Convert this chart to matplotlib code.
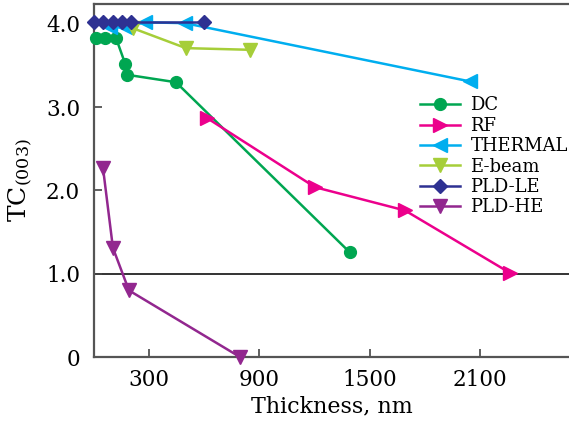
import matplotlib
matplotlib.use('Agg')
import matplotlib.pyplot as plt

plt.rcParams['font.family'] = ['DejaVu Serif']
plt.rcParams['mathtext.fontset'] = 'dejavuserif'

# 数据
dc_x = [10, 60, 120, 170, 180, 446, 1390]
dc_y = [3.83, 3.83, 3.83, 3.52, 3.39, 3.30, 1.26]

rf_x = [615, 1202, 1692, 2263]
rf_y = [2.87, 2.04, 1.76, 1.01]

th_x = [87, 170, 277, 495, 2045]
th_y = [3.96, 3.96, 4.02, 4.01, 3.31]

eb_x = [210, 500, 846]
eb_y = [3.95, 3.71, 3.69]

le_x = [0, 50, 105, 155, 200, 600]
le_y = [4.02, 4.02, 4.02, 4.02, 4.02, 4.02]

he_x = [49, 103, 190, 794]
he_y = [2.27, 1.31, 0.80, 0.0]

xticks = [300, 900, 1500, 2100]
yticks = [0, 1.0, 2.0, 3.0, 4.0]
ytick_labels = ['0', '1.0', '2.0', '3.0', '4.0']

fig = plt.figure(figsize=(5.69, 4.24), dpi=100)
ax = fig.add_axes([94 / 569, 67 / 424, 475 / 569, 353 / 424])

lw = 1.8
ax.axhline(1.0, color='#333333', lw=1.4, zorder=1)
ax.plot(dc_x, dc_y, '-o', color='#00a651', lw=lw, ms=8.5, label='DC', clip_on=False, zorder=3)
ax.plot(rf_x, rf_y, '->', color='#ec008c', lw=lw, ms=9.5, label='RF', clip_on=False, zorder=3)
ax.plot(th_x, th_y, '-<', color='#00aeef', lw=lw, ms=9.5, label='THERMAL', clip_on=False, zorder=3)
ax.plot(eb_x, eb_y, '-v', color='#a6ce39', lw=lw, ms=9.5, label='E-beam', clip_on=False, zorder=3)
ax.plot(le_x, le_y, '-D', color='#2e3192', lw=lw, ms=7.5, label='PLD-LE', clip_on=False, zorder=4)
ax.plot(he_x, he_y, '-v', color='#92278f', lw=lw, ms=9.5, label='PLD-HE', clip_on=False, zorder=3)

ax.set_xlim(0, 2584)
ax.set_ylim(0, 4.24)
ax.set_xticks(xticks)
ax.set_yticks(yticks)
ax.set_yticklabels(ytick_labels)
ax.tick_params(direction='in', length=6, width=1.2, color='#444444', labelsize=15.5)
ax.tick_params(axis='x', pad=9)
ax.tick_params(axis='y', pad=10)

for s in ['left', 'bottom', 'top']:
    ax.spines[s].set_color('#555555')
    ax.spines[s].set_linewidth(1.6)
ax.spines['right'].set_visible(False)

ax.set_xlabel('Thickness, nm', fontsize=16, labelpad=3)
ax.set_ylabel('TC$_{(003)}$', fontsize=18, labelpad=8)

ax.legend(loc='upper left', bbox_to_anchor=(0.686, 0.738), frameon=False, fontsize=13,
          borderpad=0, borderaxespad=0, handlelength=2.2, handletextpad=0.6, labelspacing=0.13)

fig.savefig('out.png', dpi=100)
